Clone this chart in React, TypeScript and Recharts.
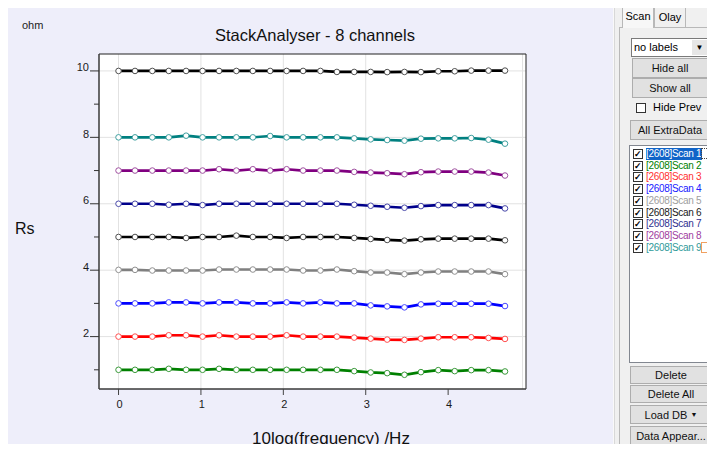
import React from 'react';
import { LineChart, Line, XAxis, YAxis, CartesianGrid, ReferenceArea } from 'recharts';

// log10 of the measurement frequencies (Hz)
const freqLog = [0, 0.2, 0.41, 0.61, 0.82, 1.02, 1.22, 1.43, 1.63, 1.84, 2.04, 2.24, 2.45, 2.65, 2.86, 3.06, 3.26, 3.47, 3.67, 3.88, 4.08, 4.28, 4.49, 4.69];

// Rs (ohm) per scan
const scan1 = [10, 10, 10, 10, 10, 10, 10, 10, 10, 10, 10, 10, 10, 9.97, 9.97, 9.97, 9.965, 9.97, 9.965, 9.99, 9.99, 10.01, 10.01, 10.01];
const scan2 = [1, 1, 1, 1.03, 1, 1, 1.03, 1, 1, 1, 1, 1, 1, 1, 0.96, 0.92, 0.9, 0.85, 0.93, 0.99, 0.96, 0.99, 0.99, 0.95];
const scan3 = [2, 2, 2, 2.04, 2.04, 2, 2.04, 2, 2, 2, 2.04, 2, 2, 2, 1.97, 1.94, 1.91, 1.9, 1.94, 1.98, 1.98, 1.98, 1.96, 1.93];
const scan4 = [3, 3, 3, 3.03, 3.03, 3, 3.03, 3.03, 3, 3, 3.03, 3, 3.03, 3, 3, 2.94, 2.91, 2.88, 2.97, 2.99, 2.99, 2.99, 2.99, 2.92];
const scan5 = [4.01, 4.01, 3.99, 3.99, 3.99, 3.99, 4.02, 4.02, 4.02, 4.02, 4.02, 3.99, 3.99, 4.02, 3.97, 3.93, 3.93, 3.88, 3.93, 3.96, 3.96, 3.96, 3.96, 3.88];
const scan6 = [5, 5, 5, 5, 4.97, 5, 5, 5.04, 5, 5, 4.97, 5, 5, 5, 4.97, 4.94, 4.91, 4.89, 4.93, 4.95, 4.95, 4.95, 4.95, 4.9];
const scan7 = [6, 6, 6, 5.97, 6, 5.96, 6, 6, 6, 6, 6, 6, 6, 6, 5.97, 5.94, 5.91, 5.88, 5.93, 5.96, 5.96, 5.96, 5.96, 5.86];
const scan8 = [7, 7, 7, 7, 7, 7, 7.04, 7, 7.04, 7, 7.04, 7, 7, 7, 6.96, 6.94, 6.92, 6.89, 6.95, 6.97, 6.97, 6.97, 6.94, 6.85];
const scan9 = [8, 8, 8, 8, 8.05, 8, 8, 8, 8, 8.04, 8, 8, 8, 8, 7.97, 7.94, 7.92, 7.9, 7.96, 7.97, 7.97, 7.98, 7.93, 7.81];

const scanNames = ['[2608]Scan 1', '[2608]Scan 2', '[2608]Scan 3', '[2608]Scan 4', '[2608]Scan 5', '[2608]Scan 6', '[2608]Scan 7', '[2608]Scan 8', '[2608]Scan 9'];
const lineColors = ['#000000', '#008000', '#ff0000', '#0000ff', '#808080', '#000000', '#00008b', '#800080', '#008080'];
const dotColors = ['#505050', '#3a9a3a', '#ff5050', '#4a4aff', '#909090', '#505050', '#4a4aaa', '#a050a0', '#40a0a0'];
const listColors = ['#ffffff', '#008000', '#ff3030', '#2020ff', '#a0a0a0', '#202020', '#303090', '#a040a0', '#309a9a'];
const scanValues = [scan1, scan2, scan3, scan4, scan5, scan6, scan7, scan8, scan9];

const xTicks = [0, 1, 2, 3, 4];
const yTicks = [1, 2, 3, 4, 5, 6, 7, 8, 9, 10];
const yGrid = [2, 4, 6, 8, 10];
const xDomain: [number, number] = [-0.237, 4.945];
const yDomain: [number, number] = [0.422, 10.51];

// logarithmic frequency grid: decades and their 2..9 subdivisions
const gridX: number[] = [];
for (let k = -1; k <= 4; k++) {
  for (let m = 1; m <= 9; m++) {
    const v = k + Math.log10(m);
    if (v > xDomain[0] && v < xDomain[1]) gridX.push(v);
  }
}

const rows = freqLog.map((f, i) => {
  const row: Record<string, number> = { f };
  scanValues.forEach((vals, s) => {
    row['s' + s] = vals[i];
  });
  return row;
});

function YTick(props: any) {
  const { x, y, payload } = props;
  const v = payload.value as number;
  const major = v % 2 === 0;
  return (
    <g>
      <line x1={x - (major ? 9 : 5)} x2={x} y1={y} y2={y} stroke="#333" strokeWidth={1} />
      {major && (
        <text x={x - 10} y={y + 0.5} textAnchor="end" fontSize={11} fill="#1a1a1a">
          {v}
        </text>
      )}
    </g>
  );
}

const FONT = '"Liberation Sans", Arial, sans-serif';

const btn: React.CSSProperties = {
  position: 'absolute',
  boxSizing: 'border-box',
  border: '1px solid #adadad',
  background: '#e1e1e1',
  fontSize: 11,
  color: '#111',
  display: 'flex',
  alignItems: 'center',
  justifyContent: 'center',
  fontFamily: FONT,
};

function CheckBox({ left, top, checked }: { left: number; top: number; checked: boolean }) {
  return (
    <div
      style={{
        position: 'absolute',
        left,
        top,
        width: 10,
        height: 10,
        boxSizing: 'border-box',
        border: '1px solid #333',
        background: '#fff',
        fontSize: 9,
        lineHeight: '8px',
        textAlign: 'center',
        color: '#000',
        fontWeight: 'bold',
      }}
    >
      {checked ? '✓' : ''}
    </div>
  );
}

function SidePanel() {
  return (
    <div style={{ position: 'absolute', left: 614, top: 0, width: 101, height: 452, background: '#f0f0f0', fontFamily: FONT }}>
      <div style={{ position: 'absolute', left: 0, top: 0, width: 1, height: 452, background: '#d8d8d8' }} />
      {/* tab strip */}
      <div style={{ position: 'absolute', left: 5, top: 27, width: 96, height: 425, borderLeft: '1px solid #b8b8b8', borderTop: '1px solid #b8b8b8', boxSizing: 'border-box' }} />
      <div style={{ position: 'absolute', left: 8, top: 4, width: 32, height: 24, border: '1px solid #b8b8b8', borderBottom: 'none', background: '#f7f7f7', fontSize: 11, boxSizing: 'border-box', paddingTop: 5, textAlign: 'center' }}>Scan</div>
      <div style={{ position: 'absolute', left: 40, top: 7, width: 32, height: 20, border: '1px solid #b8b8b8', borderBottom: 'none', background: '#f0f0f0', fontSize: 11, boxSizing: 'border-box', paddingTop: 3, textAlign: 'center' }}>Olay</div>
      {/* label mode drop-down */}
      <div style={{ position: 'absolute', left: 17, top: 38, width: 78, height: 19, border: '1px solid #7a7a7a', background: '#fff', boxSizing: 'border-box', fontSize: 11, paddingLeft: 2, lineHeight: '17px' }}>
        no labels
        <div style={{ position: 'absolute', right: 1, top: 1, width: 15, height: 15, background: '#e6e6e6', fontSize: 8, textAlign: 'center', lineHeight: '15px' }}>▼</div>
      </div>
      <div style={{ ...btn, left: 18, top: 58, width: 76, height: 20 }}>Hide all</div>
      <div style={{ ...btn, left: 18, top: 78, width: 76, height: 20 }}>Show all</div>
      <CheckBox left={22} top={103} checked={false} />
      <div style={{ position: 'absolute', left: 39, top: 101, fontSize: 11 }}>Hide Prev</div>
      <div style={{ ...btn, left: 16, top: 120, width: 80, height: 20 }}>All ExtraData</div>
      {/* scan list */}
      <div style={{ position: 'absolute', left: 15, top: 145, width: 83, height: 218, border: '1px solid #828790', background: '#fff', boxSizing: 'border-box' }}>
        {scanNames.map((name, i) => (
          <div key={name} style={{ position: 'absolute', left: 0, top: 2 + i * 11.7, height: 12, width: 81 }}>
            <CheckBox left={3} top={1} checked={true} />
            <div
              style={{
                position: 'absolute',
                left: 16,
                top: 0,
                fontSize: 10,
                letterSpacing: -0.3,
                lineHeight: '12px',
                color: listColors[i],
                background: i === 0 ? '#1064c8' : 'transparent',
                whiteSpace: 'nowrap',
                paddingRight: 1,
              }}
            >
              {name}
            </div>
            {i === 0 && <div style={{ position: 'absolute', left: 71, top: 0, width: 10, height: 11, border: '1px dotted #444', boxSizing: 'border-box' }} />}
            {i === 8 && <div style={{ position: 'absolute', left: 71, top: 0, width: 9, height: 11, border: '1px solid #f0a060', boxSizing: 'border-box' }} />}
          </div>
        ))}
      </div>
      <div style={{ ...btn, left: 16, top: 366, width: 82, height: 18 }}>Delete</div>
      <div style={{ ...btn, left: 16, top: 385, width: 82, height: 18 }}>Delete All</div>
      <div style={{ ...btn, left: 16, top: 405, width: 82, height: 19 }}>Load DB&nbsp;<span style={{ fontSize: 7 }}>▼</span></div>
      <div style={{ ...btn, left: 16, top: 426, width: 82, height: 20 }}>Data Appear...</div>
    </div>
  );
}

export default function App() {
  return (
    <div style={{ position: 'relative', margin: -8, width: 715, height: 452, overflow: 'hidden', background: '#f9f9f9', fontFamily: FONT }}>
      <div style={{ position: 'absolute', left: 7, top: 7, width: 606, height: 445, background: '#eeeefa' }} />
      <div style={{ position: 'absolute', left: 0, top: 0 }}>
        <LineChart width={612} height={452} data={rows} margin={{ top: 54, right: 86, bottom: 0, left: 0 }}>
          <CartesianGrid fill="#ffffff" stroke="#e2e2e2" horizontalValues={yGrid} verticalValues={gridX} />
          <ReferenceArea x1={xDomain[0]} x2={xDomain[1]} y1={yDomain[0]} y2={yDomain[1]} fill="none" stroke="#222" strokeWidth={1} />
          <XAxis
            dataKey="f"
            type="number"
            domain={xDomain}
            ticks={xTicks}
            allowDataOverflow
            height={63}
            tickSize={6}
            tickMargin={5}
            stroke="#444"
            tick={{ fontSize: 11, fill: '#1a1a1a', dx: 1 }}
          />
          <YAxis
            type="number"
            domain={yDomain}
            ticks={yTicks}
            allowDataOverflow
            width={99}
            tickSize={0}
            tickMargin={0}
            tickLine={false}
            stroke="#444"
            tick={<YTick />}
          />
          {scanValues.map((_, s) => (
            <Line
              key={s}
              dataKey={'s' + s}
              name={scanNames[s]}
              type="linear"
              stroke={lineColors[s]}
              strokeWidth={2.7}
              dot={{ r: 2.8, fill: '#fff', stroke: dotColors[s], strokeWidth: 1 }}
              isAnimationActive={false}
            />
          ))}
        </LineChart>
      </div>
      <svg width={612} height={452} style={{ position: 'absolute', left: 0, top: 0, pointerEvents: 'none' }}>
        <text x={22} y={29} fontSize={11} fill="#222">ohm</text>
        <text x={315} y={41} fontSize={16.5} fill="#111" textAnchor="middle">StackAnalyser - 8 channels</text>
        <text x={15} y={234} fontSize={16} fill="#111">Rs</text>
        <text x={331} y={444} fontSize={17} fill="#111" textAnchor="middle">10log(frequency) /Hz</text>
      </svg>
      <SidePanel />
    </div>
  );
}
